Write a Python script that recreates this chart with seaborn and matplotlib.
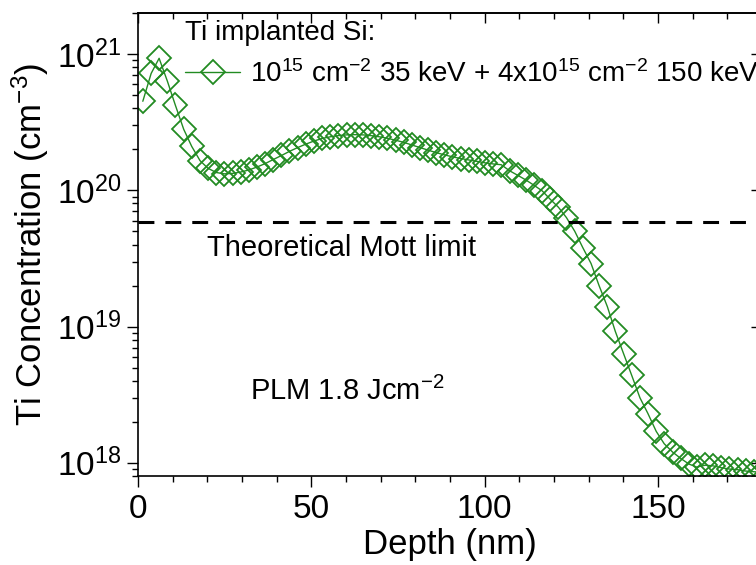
import matplotlib
matplotlib.use("Agg")
import matplotlib.pyplot as plt
import matplotlib.ticker as mticker
import seaborn as sns

# Depth points (nm)
depth = [
    1.4, 3.8, 6.1, 8.5, 10.8, 13.2, 15.5, 17.9, 20.2, 22.6,
    24.9, 27.3, 29.6, 32.0, 34.3, 36.7, 39.0, 41.4, 43.7, 46.1,
    48.4, 50.8, 53.1, 55.5, 57.8, 60.2, 62.5, 64.9, 67.2, 69.6,
    71.9, 74.3, 76.6, 79.0, 81.3, 83.7, 86.0, 88.4, 90.7, 93.1,
    95.4, 97.8, 100.1, 102.5, 104.8, 107.2, 109.5, 111.9, 114.2, 116.6,
    118.9, 121.3, 123.6, 126.0, 128.3, 130.7, 133.0, 135.4, 137.7, 140.1,
    142.4, 144.8, 147.1, 149.5, 151.8, 154.2, 156.5, 158.9, 161.2, 163.6,
    165.9, 168.3, 170.6, 173.0, 175.3, 177.7, 180.0,
]

# Ti concentration (cm^-3)
conc = [
    4.5e20, 7.2e20, 9.3e20, 6.3e20, 4.2e20, 2.8e20, 2.1e20, 1.65e20, 1.45e20, 1.35e20,
    1.32e20, 1.33e20, 1.36e20, 1.41e20, 1.48e20, 1.57e20, 1.68e20, 1.80e20, 1.93e20, 2.06e20,
    2.18e20, 2.30e20, 2.40e20, 2.47e20, 2.52e20, 2.55e20, 2.56e20, 2.55e20, 2.52e20, 2.47e20,
    2.41e20, 2.33e20, 2.25e20, 2.15e20, 2.06e20, 1.97e20, 1.89e20, 1.82e20, 1.76e20, 1.71e20,
    1.67e20, 1.63e20, 1.59e20, 1.56e20, 1.54e20, 1.39e20, 1.29e20, 1.19e20, 1.09e20, 9.9e19,
    8.6e19, 7.5e19, 6.3e19, 5.0e19, 3.8e19, 2.9e19, 2.0e19, 1.4e19, 9.2e18, 6.3e18,
    4.4e18, 3.0e18, 2.3e18, 1.7e18, 1.38e18, 1.2e18, 1.08e18, 9.8e17, 9.3e17, 9.6e17,
    9.5e17, 9.2e17, 9.0e17, 8.9e17, 8.7e17, 8.6e17, 8.5e17,
]

mott_limit = 5.9e19

legend_title = "Ti implanted Si:"
series_label = r"10$^{15}$ cm$^{-2}$ 35 keV + 4x10$^{15}$ cm$^{-2}$ 150 keV"
mott_text = "Theoretical Mott limit"
plm_text = r"PLM 1.8 Jcm$^{-2}$"

green = "#228b22"

sns.set_style("ticks", {"axes.edgecolor": "black", "xtick.color": "black",
                        "ytick.color": "black", "text.color": "black",
                        "axes.labelcolor": "black"})
plt.rcParams["font.family"] = ["Liberation Sans", "DejaVu Sans"]
plt.rcParams["mathtext.default"] = "regular"

fig = plt.figure(figsize=(7.56, 5.65), dpi=100)
# axes run past the right edge, like the cropped original
ax = fig.add_axes([0.1825, 0.1575, 0.8254, 0.8195])

sns.lineplot(
    x=depth, y=conc, ax=ax, sort=False, estimator=None,
    color=green, linewidth=1.0, marker="D", markersize=12,
    markerfacecolor="none", markeredgecolor=green, markeredgewidth=1.3,
    label=series_label, legend=False,
)

ax.axhline(mott_limit, color="black", linewidth=2.2, linestyle=(0, (5.2, 3.6)))

ax.set_yscale("log")
ax.set_xlim(0, 180)
ax.set_ylim(8e17, 2e21)

ax.xaxis.set_major_locator(mticker.MultipleLocator(50))
ax.xaxis.set_minor_locator(mticker.MultipleLocator(10))
ax.yaxis.set_minor_locator(mticker.LogLocator(subs=range(2, 10)))
ax.yaxis.set_minor_formatter(mticker.NullFormatter())

ax.tick_params(which="both", direction="out", width=1.0, labelsize=24,
               top=False, right=False, colors="black")
ax.tick_params(which="major", length=8)
ax.tick_params(which="minor", length=4.5)
ax.tick_params(axis="x", pad=5)
ax.tick_params(axis="y", pad=4)

for s in ax.spines.values():
    s.set_linewidth(1.2)
    s.set_color("black")

# mirrored ticks pointing inward on top and right
top = ax.secondary_xaxis("top")
top.xaxis.set_major_locator(mticker.MultipleLocator(50))
top.xaxis.set_minor_locator(mticker.MultipleLocator(10))
top.tick_params(which="both", direction="in", labeltop=False, width=1.0, colors="black")
top.tick_params(which="major", length=7)
top.tick_params(which="minor", length=4.5)
top.spines["top"].set_linewidth(1.2)

right = ax.secondary_yaxis("right")
right.yaxis.set_minor_locator(mticker.LogLocator(subs=range(2, 10)))
right.yaxis.set_minor_formatter(mticker.NullFormatter())
right.tick_params(which="both", direction="in", labelright=False, width=1.0, colors="black")
right.tick_params(which="major", length=8)
right.tick_params(which="minor", length=4.5)

ax.set_xlabel("Depth (nm)", fontsize=25, labelpad=2, color="black")
ax.set_ylabel(r"Ti Concentration (cm$^{-3}$)", fontsize=25, labelpad=4, color="black")

ax.text(20, 3.3e19, mott_text, fontsize=21, ha="left", va="baseline", color="black")
ax.text(32.3, 2.9e18, plm_text, fontsize=21, ha="left", va="baseline", color="black")

leg = ax.legend(
    loc="upper left", bbox_to_anchor=(0.075, 0.985), frameon=False,
    title=legend_title, alignment="left", fontsize=20, title_fontsize=20,
    handlelength=2.0, handletextpad=0.36, borderpad=0, borderaxespad=0,
    labelcolor="black",
)
leg.get_title().set_color("black")

fig.savefig("out.png", dpi=100)
